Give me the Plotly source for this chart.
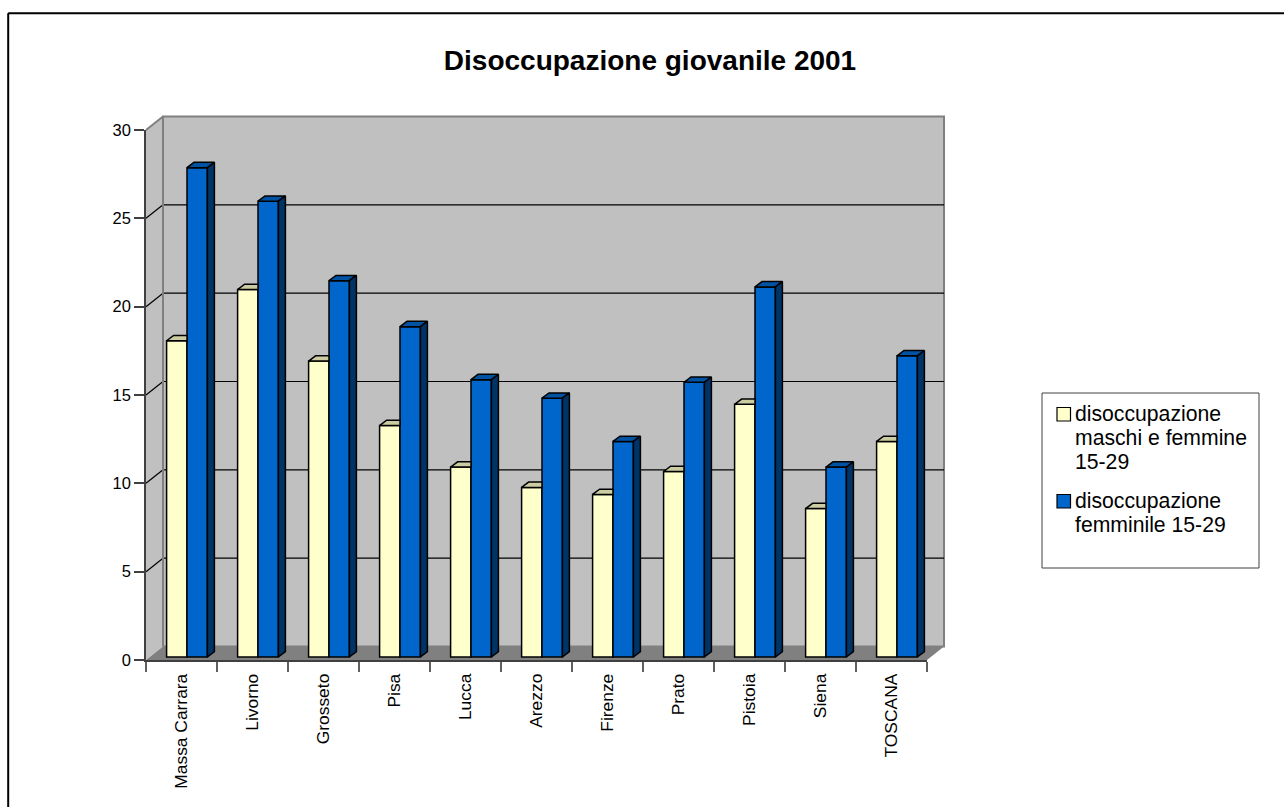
import plotly.graph_objects as go

categories = ["Massa Carrara", "Livorno", "Grosseto", "Pisa", "Lucca", "Arezzo",
              "Firenze", "Prato", "Pistoia", "Siena", "TOSCANA"]
maschi_femmine = [17.9, 20.8, 16.75, 13.1, 10.75, 9.6, 9.2, 10.5, 14.3, 8.4, 12.2]
femminile = [27.7, 25.8, 21.3, 18.7, 15.7, 14.65, 12.2, 15.55, 20.95, 10.75, 17.05]
y_ticks = [0, 5, 10, 15, 20, 25, 30]
title_text = "Disoccupazione giovanile 2001"
legend_1 = ["disoccupazione", "maschi e femmine", "15-29"]
legend_2 = ["disoccupazione", "femminile 15-29"]

W, H = 1284, 807
L, R, T, B = 146, 927, 130, 660
FONT = "Liberation Sans"
YEL, YEL_TOP = "#FFFFCC", "#CCCCA3"
BLU, BLU_TOP, BLU_SIDE = "#0066CC", "#0052A3", "#003366"
WALL, FLOOR, EDGE = "#C0C0C0", "#808080", "#808080"
ux = 11 / (R - L)      # data units per pixel
uy = 30 / (B - T)
BACK_X, BACK_Y = 17, 13.5
BAR_SHIFT, BAR_BASE = 5.5, 3
BAR_W = 20.4
DEPTH_X, DEPTH_Y = 7, 5.3


def px(x):
    return (x - L) / (R - L)


def py(y):
    return (B - y) / (B - T)


def poly(points, fill, color=None, width=0):
    path = "M" + "L".join(f"{px(a):.5f},{py(b):.5f}" for a, b in points) + "Z"
    return dict(type="path", xref="paper", yref="paper", path=path, fillcolor=fill,
                line=dict(color=color or fill, width=width), layer="below")


def seg(x0, y0, x1, y1, color, width):
    return dict(type="line", xref="paper", yref="paper", x0=px(x0), y0=py(y0), x1=px(x1), y1=py(y1),
                line=dict(color=color, width=width), layer="below")


bx0, bx1 = L + BACK_X, R + BACK_X
by0, by1 = B - BACK_Y, T - BACK_Y
shapes = [
    poly([(bx0, by0), (bx1, by0), (bx1, by1), (bx0, by1)], WALL, EDGE, 2),
    poly([(L, B), (bx0, by0), (bx0, by1), (L, T)], WALL),
    poly([(L, B), (R, B), (bx1, by0), (bx0, by0)], FLOOR),
]
for t in y_ticks[1:-1]:
    yf = B - t / uy
    shapes.append(seg(L, yf, bx0, yf - BACK_Y, "#000000", 1.2))
    shapes.append(seg(bx0, yf - BACK_Y, bx1, yf - BACK_Y, "#000000", 1.2))
shapes.append(seg(L, T, bx0, by1, EDGE, 2))
shapes.append(seg(bx0, by1, bx0, by0, EDGE, 2))
# page frame, cut by the right and lower picture edges
shapes.append(seg(8.2, 807, 8.2, 13.2, "#000000", 2))
shapes.append(seg(8.2, 13.2, 1284, 13.2, "#000000", 2))
# legend box and swatches
shapes.append(dict(type="rect", xref="paper", yref="paper", x0=px(1042), x1=px(1259), y0=py(393), y1=py(568),
                   fillcolor="#FFFFFF", line=dict(color="#404040", width=1)))
for y0, c in ((407.5, YEL), (494.5, BLU)):
    shapes.append(dict(type="rect", xref="paper", yref="paper", x0=px(1057), x1=px(1070.5), y0=py(y0), y1=py(y0 + 13.5),
                       fillcolor=c, line=dict(color="#000000", width=1.2)))

centers = [i + 0.5 for i in range(len(categories))]
xfront = [c + BAR_SHIFT * ux for c in centers]
bw = BAR_W * ux
base = BAR_BASE * uy
dxd, dyd = DEPTH_X * ux, DEPTH_Y * uy

fig = go.Figure()
fig.add_bar(x=[x - bw / 2 for x in xfront], y=maschi_femmine, base=base, width=bw, name=" ".join(legend_1),
            marker=dict(color=YEL, line=dict(color="#000000", width=1.5)), showlegend=False, hoverinfo="y")
fig.add_bar(x=[x + bw / 2 for x in xfront], y=femminile, base=base, width=bw, name=" ".join(legend_2),
            marker=dict(color=BLU, line=dict(color="#000000", width=1.5)), showlegend=False, hoverinfo="y")

tx, ty, ux2, uy2, sx, sy = [], [], [], [], [], []
for x, a, b in zip(xfront, maschi_femmine, femminile):
    ya, yb = a + base, b + base
    # top of the pale bar: its right end is hidden by the taller blue bar
    tx += [x - bw, x, x, x - bw + dxd, x - bw, None]
    ty += [ya, ya, ya + dyd, ya + dyd, ya, None]
    ux2 += [x, x + bw, x + bw + dxd, x + dxd, x, None]
    uy2 += [yb, yb, yb + dyd, yb + dyd, yb, None]
    sx += [x + bw, x + bw + dxd, x + bw + dxd, x + bw, x + bw, None]
    sy += [base, base + dyd, yb + dyd, yb, base, None]
for xs, ys, c in ((tx, ty, YEL_TOP), (ux2, uy2, BLU_TOP), (sx, sy, BLU_SIDE)):
    fig.add_scatter(x=xs, y=ys, mode="lines", fill="toself", fillcolor=c, cliponaxis=False,
                    line=dict(color="#000000", width=1.5), showlegend=False, hoverinfo="skip")

annotations = []
for lines, ys in ((legend_1, (414, 437.5, 461)), (legend_2, (501, 524.5))):
    for line, y in zip(lines, ys):
        annotations.append(dict(xref="paper", yref="paper", x=px(1073), y=py(y), text=line, showarrow=False,
                                xanchor="left", yanchor="middle", font=dict(family=FONT, size=21.2, color="#000000")))

fig.update_layout(
    width=W, height=H, autosize=False,
    margin=dict(l=L, r=W - R, t=T, b=H - B, pad=0),
    paper_bgcolor="#FFFFFF", plot_bgcolor="rgba(0,0,0,0)",
    barmode="overlay", showlegend=False, shapes=shapes, annotations=annotations,
    title=dict(text=f"<b>{title_text}</b>", x=650 / W, y=1 - 60 / H, xanchor="center", yanchor="middle",
               font=dict(family=FONT, size=28, color="#000000")),
    xaxis=dict(range=[0, 11], tickmode="array", tickvals=centers, ticktext=categories, tickangle=-90,
               ticks="outside", ticklen=5, tickcolor="rgba(0,0,0,0)", showgrid=False, zeroline=False,
               showline=True, linecolor="#404040", linewidth=1.5,
               minor=dict(tickmode="array", tickvals=list(range(12)), ticks="outside", ticklen=10,
                          tickcolor="#606060", tickwidth=1.5, showgrid=False),
               tickfont=dict(family=FONT, size=17.4, color="#000000")),
    yaxis=dict(range=[0, 30], tickmode="array", tickvals=y_ticks, ticks="outside", ticklen=10,
               tickcolor="#404040", tickwidth=1.5, showgrid=False, zeroline=False,
               showline=True, linecolor="#404040", linewidth=1.5,
               tickfont=dict(family=FONT, size=16.5, color="#000000")),
)
fig.write_html("out.html", config=dict(displayModeBar=False), post_script="document.body.style.margin='0';")
